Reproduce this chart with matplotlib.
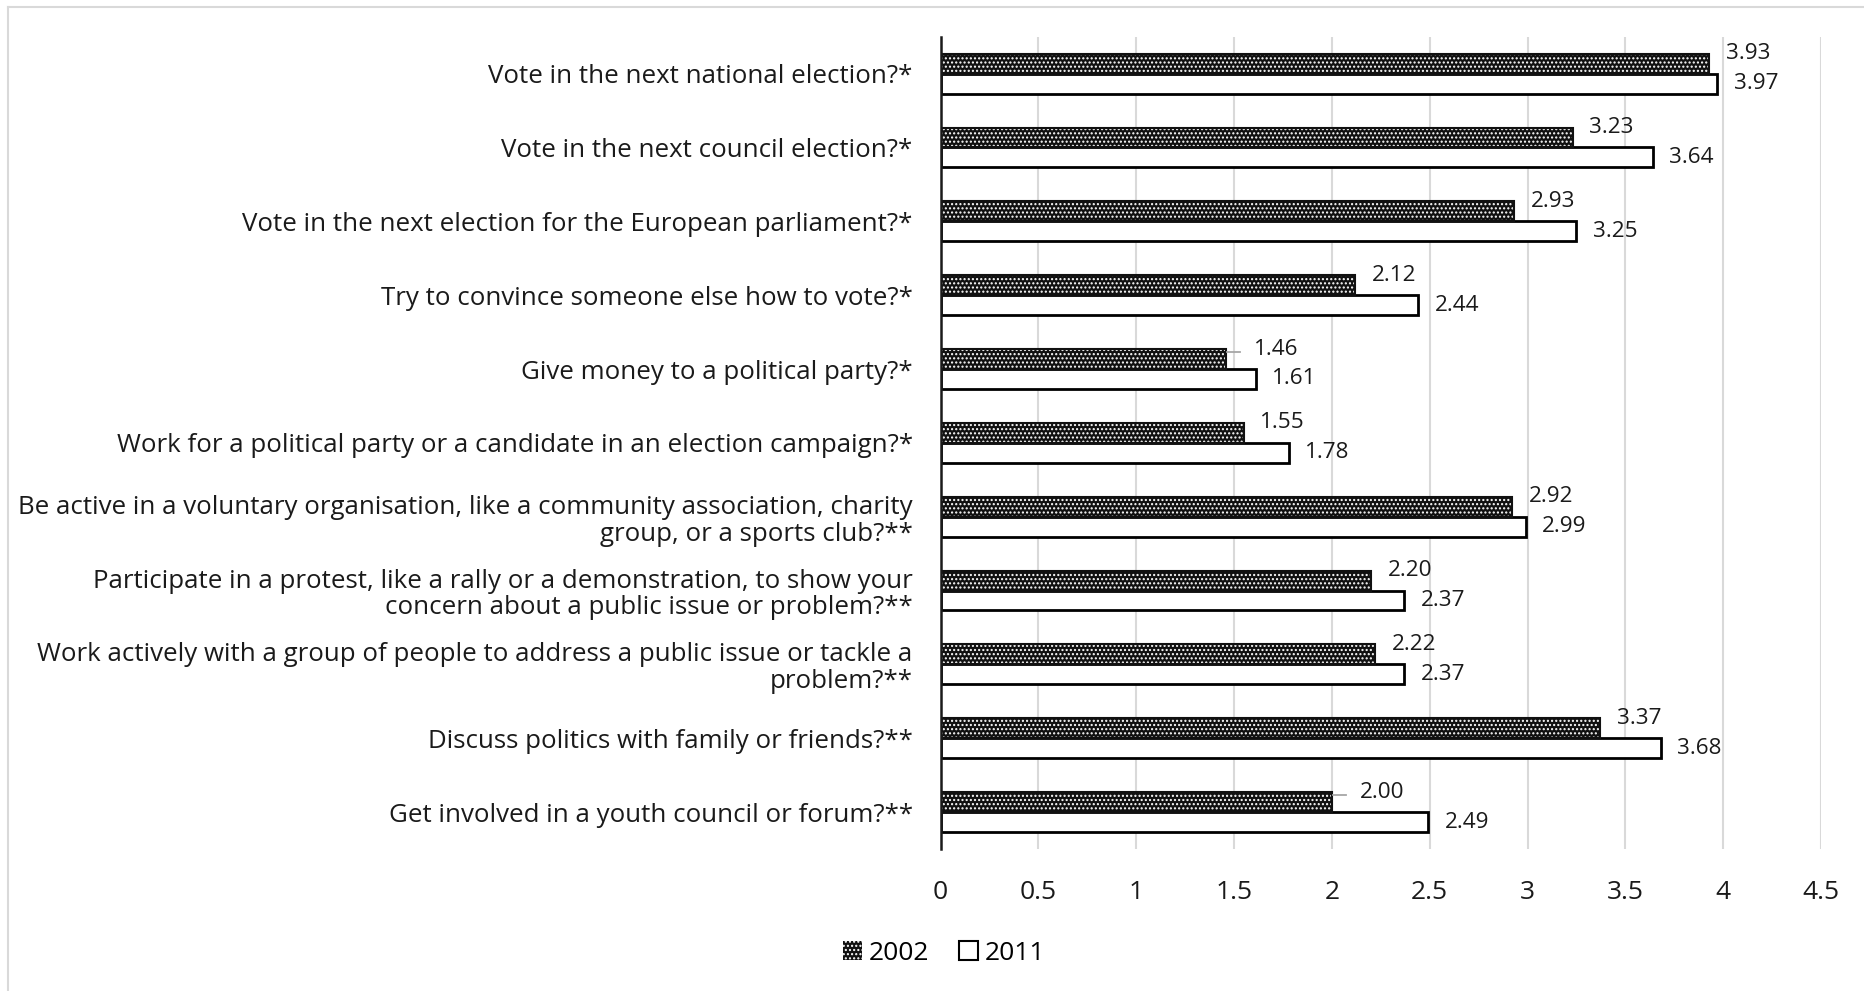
import matplotlib
matplotlib.use("Agg")
import matplotlib.pyplot as plt
from matplotlib.patches import Patch
from matplotlib.lines import Line2D
import numpy as np

plt.rcParams['font.family'] = ['Open Sans', 'DejaVu Sans']

categories = [
    "Vote in the next national election?*",
    "Vote in the next council election?*",
    "Vote in the next election for the European parliament?*",
    "Try to convince someone else how to vote?*",
    "Give money to a political party?*",
    "Work for a political party or a candidate in an election campaign?*",
    "Be active in a voluntary organisation, like a community association, charity\ngroup, or a sports club?**",
    "Participate in a protest, like a rally or a demonstration, to show your\nconcern about a public issue or problem?**",
    "Work actively with a group of people to address a public issue or tackle a\nproblem?**",
    "Discuss politics with family or friends?**",
    "Get involved in a youth council or forum?**",
]
values_2002 = [3.93, 3.23, 2.93, 2.12, 1.46, 1.55, 2.92, 2.20, 2.22, 3.37, 2.00]
values_2011 = [3.97, 3.64, 3.25, 2.44, 1.61, 1.78, 2.99, 2.37, 2.37, 3.68, 2.49]
series_names = ["2002", "2011"]
xticks = [0, 0.5, 1, 1.5, 2, 2.5, 3, 3.5, 4, 4.5]
xtick_labels = ["0", "0.5", "1", "1.5", "2", "2.5", "3", "3.5", "4", "4.5"]
leader_idx = [4, 10]  # labels drawn with a small leader line

W, H = 1865, 991
fig = plt.figure(figsize=(W / 100, H / 100), dpi=100)
ax = fig.add_axes([940.5 / W, 1 - 849 / H, (1821 - 940.5) / W, (849 - 36.7) / H])

n = len(categories)
y = np.arange(n)
bh = 0.27

ax.barh(y - bh / 2, values_2002, height=bh, color="#111111", edgecolor="white",
        hatch="....", linewidth=0, zorder=3)
ax.barh(y - bh / 2, values_2002, height=bh, fill=False, edgecolor="#111111",
        linewidth=1.5, zorder=4)
ax.barh(y + bh / 2, values_2011, height=bh, color="white", edgecolor="black",
        linewidth=2, zorder=3)

lab_fs = 16.2
for i in range(n):
    v = values_2002[i]
    if i in leader_idx:
        ax.plot([v + 0.005, v + 0.07], [i - bh + 0.04, i - bh + 0.04], color="#a6a6a6",
                lw=1.3, zorder=4, clip_on=False)
        ax.annotate(f"{v:.2f}", (v, i - bh), xytext=(20, 0), textcoords="offset points",
                    ha="left", va="center", fontsize=lab_fs, color="#1a1a1a")
    else:
        ax.annotate(f"{v:.2f}", (v, i - bh), xytext=(12, 0), textcoords="offset points",
                    ha="left", va="center", fontsize=lab_fs, color="#1a1a1a")
    v2 = values_2011[i]
    ax.annotate(f"{v2:.2f}", (v2, i + bh / 2), xytext=(12, 0), textcoords="offset points",
                ha="left", va="center", fontsize=lab_fs, color="#1a1a1a")

ax.set_xlim(0, 4.5)
ax.set_ylim(n - 0.5, -0.5)
ax.set_xticks(xticks)
ax.set_xticklabels(xtick_labels, fontsize=19, color="#1a1a1a")
ax.set_yticks(y)
ax.set_yticklabels(categories, fontsize=18.6, color="#1a1a1a", linespacing=1.1)
ax.tick_params(axis="x", length=0, pad=22)
ax.tick_params(axis="y", length=0, pad=20)
ax.grid(axis="x", color="#d9d9d9", linewidth=1.5, zorder=0)
ax.set_axisbelow(True)
for s in ["top", "right", "bottom"]:
    ax.spines[s].set_visible(False)
ax.spines["left"].set_linewidth(1.8)
ax.spines["left"].set_color("#1a1a1a")
ax.spines["left"].set_zorder(5)

handles = [
    Patch(facecolor="#111111", edgecolor="white", hatch="....", linewidth=0, label=series_names[0]),
    Patch(facecolor="white", edgecolor="black", linewidth=1.5, label=series_names[1]),
]
fig.legend(handles=handles, loc="center", bbox_to_anchor=(944 / W, 1 - 953 / H), ncol=2,
           frameon=False, fontsize=19, handlelength=0.75, handleheight=0.75,
           handletextpad=0.25, columnspacing=1.1, borderpad=0)

fig.add_artist(Line2D([8.5 / W, 8.5 / W], [0, 1 - 7 / H], color="#d9d9d9", lw=1.5))
fig.add_artist(Line2D([8.5 / W, 1], [1 - 7 / H, 1 - 7 / H], color="#d9d9d9", lw=1.5))

fig.savefig("out.png", dpi=100, facecolor="white")
